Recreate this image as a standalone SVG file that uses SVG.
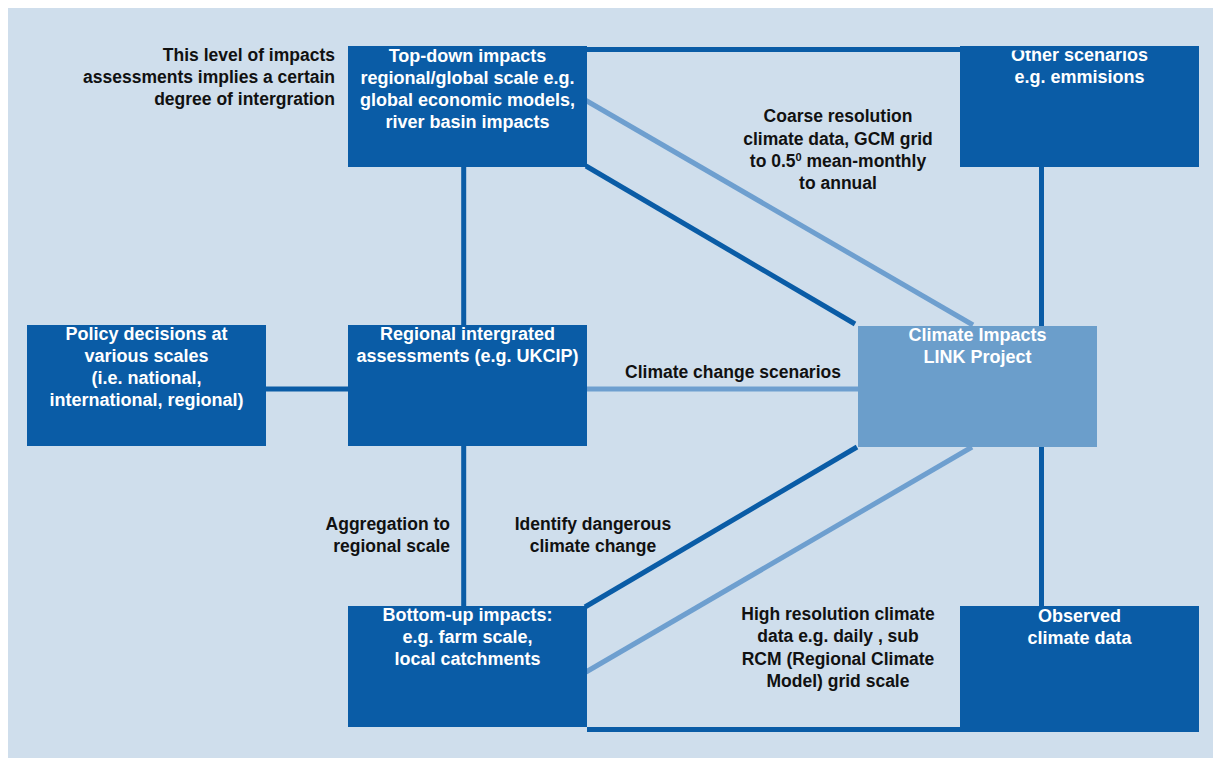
<svg xmlns="http://www.w3.org/2000/svg" width="1213" height="758" viewBox="0 0 1213 758">
<defs>
<style>
.bg{fill:#cfdeec}
.box{fill:#0a5ca6}
.hub{fill:#6b9ecb}
.dk{stroke:#0a5ca6;stroke-width:5;fill:none}
.lt{stroke:#6e9fcf;stroke-width:5;fill:none}
.w{font-family:"Liberation Sans",Arial,sans-serif;font-weight:bold;font-size:18px;fill:#ffffff;text-anchor:middle}
.b{font-family:"Liberation Sans",Arial,sans-serif;font-weight:bold;font-size:17.5px;fill:#111111;text-anchor:middle}
.r{text-anchor:end}
</style>
<clipPath id="clipOther"><rect x="960" y="50.5" width="239" height="117"/></clipPath>
</defs>
<rect x="0" y="0" width="1213" height="758" fill="#ffffff"/>
<rect class="bg" x="8" y="8" width="1205" height="750"/>

<g id="connectors">
<line class="dk" x1="587" y1="49.5" x2="960" y2="49.5"/>
<line class="dk" x1="1041.5" y1="167" x2="1041.5" y2="326"/>
<line class="dk" x1="1041.5" y1="446" x2="1041.5" y2="606"/>
<line class="dk" x1="587" y1="729.5" x2="1199" y2="729.5"/>
<line class="dk" x1="463.7" y1="167" x2="463.7" y2="325"/>
<line class="dk" x1="463.7" y1="446" x2="463.7" y2="606"/>
<line class="dk" x1="266" y1="389" x2="348" y2="389"/>
<line class="lt" x1="587" y1="389" x2="858" y2="389"/>
<line class="lt" x1="586" y1="100.5" x2="973" y2="325"/>
<line class="dk" x1="586" y1="166" x2="855" y2="324"/>
<line class="dk" x1="585" y1="607" x2="857" y2="447"/>
<line class="lt" x1="586" y1="672" x2="972" y2="447"/>
</g>

<g id="note-integration">
<text class="b r" x="335" y="61">This level of impacts</text>
<text class="b r" x="335" y="83">assessments implies a certain</text>
<text class="b r" x="335" y="105">degree of intergration</text>
</g>

<g id="top-down">
<rect class="box" x="348" y="46" width="239" height="121"/>
<text class="w" x="467.5" y="62">Top-down impacts</text>
<text class="w" x="467.5" y="84">regional/global scale e.g.</text>
<text class="w" x="467.5" y="106">global economic models,</text>
<text class="w" x="467.5" y="128">river basin impacts</text>
</g>

<g id="other-scenarios">
<rect class="box" x="960" y="46" width="239" height="121"/>
<g clip-path="url(#clipOther)">
<text class="w" x="1079.5" y="61">Other scenarios</text>
<text class="w" x="1079.5" y="83">e.g. emmisions</text>
</g>
</g>

<g id="coarse-label">
<text class="b" x="838" y="122">Coarse resolution</text>
<text class="b" x="838" y="145">climate data, GCM grid</text>
<text class="b" x="838" y="167">to 0.5<tspan font-size="11" dy="-6">0</tspan><tspan dy="6"> mean-monthly</tspan></text>
<text class="b" x="838" y="189">to annual</text>
</g>

<g id="policy">
<rect class="box" x="27" y="325" width="239" height="121"/>
<text class="w" x="146.5" y="340">Policy decisions at</text>
<text class="w" x="146.5" y="362">various scales</text>
<text class="w" x="146.5" y="384">(i.e. national,</text>
<text class="w" x="146.5" y="406">international, regional)</text>
</g>

<g id="regional">
<rect class="box" x="348" y="325" width="239" height="121"/>
<text class="w" x="467.5" y="340">Regional intergrated</text>
<text class="w" x="467.5" y="362">assessments (e.g. UKCIP)</text>
</g>

<g id="scenarios-label">
<text class="b" x="733" y="378">Climate change scenarios</text>
</g>

<g id="climate-impacts">
<rect class="hub" x="858" y="326" width="239" height="121"/>
<text class="w" x="977.5" y="341">Climate Impacts</text>
<text class="w" x="977.5" y="363">LINK Project</text>
</g>

<g id="aggregation-label">
<text class="b r" x="450" y="530">Aggregation to</text>
<text class="b r" x="450" y="552">regional scale</text>
</g>

<g id="dangerous-label">
<text class="b" x="593" y="530">Identify dangerous</text>
<text class="b" x="593" y="552">climate change</text>
</g>

<g id="bottom-up">
<rect class="box" x="348" y="606" width="239" height="121"/>
<text class="w" x="467.5" y="621">Bottom-up impacts:</text>
<text class="w" x="467.5" y="643">e.g. farm scale,</text>
<text class="w" x="467.5" y="665">local catchments</text>
</g>

<g id="high-res-label">
<text class="b" x="838" y="620">High resolution climate</text>
<text class="b" x="838" y="642">data e.g. daily , sub</text>
<text class="b" x="838" y="665">RCM (Regional Climate</text>
<text class="b" x="838" y="687">Model) grid scale</text>
</g>

<g id="observed">
<rect class="box" x="960" y="606" width="239" height="121"/>
<text class="w" x="1079.5" y="622">Observed</text>
<text class="w" x="1079.5" y="644">climate data</text>
</g>
</svg>
